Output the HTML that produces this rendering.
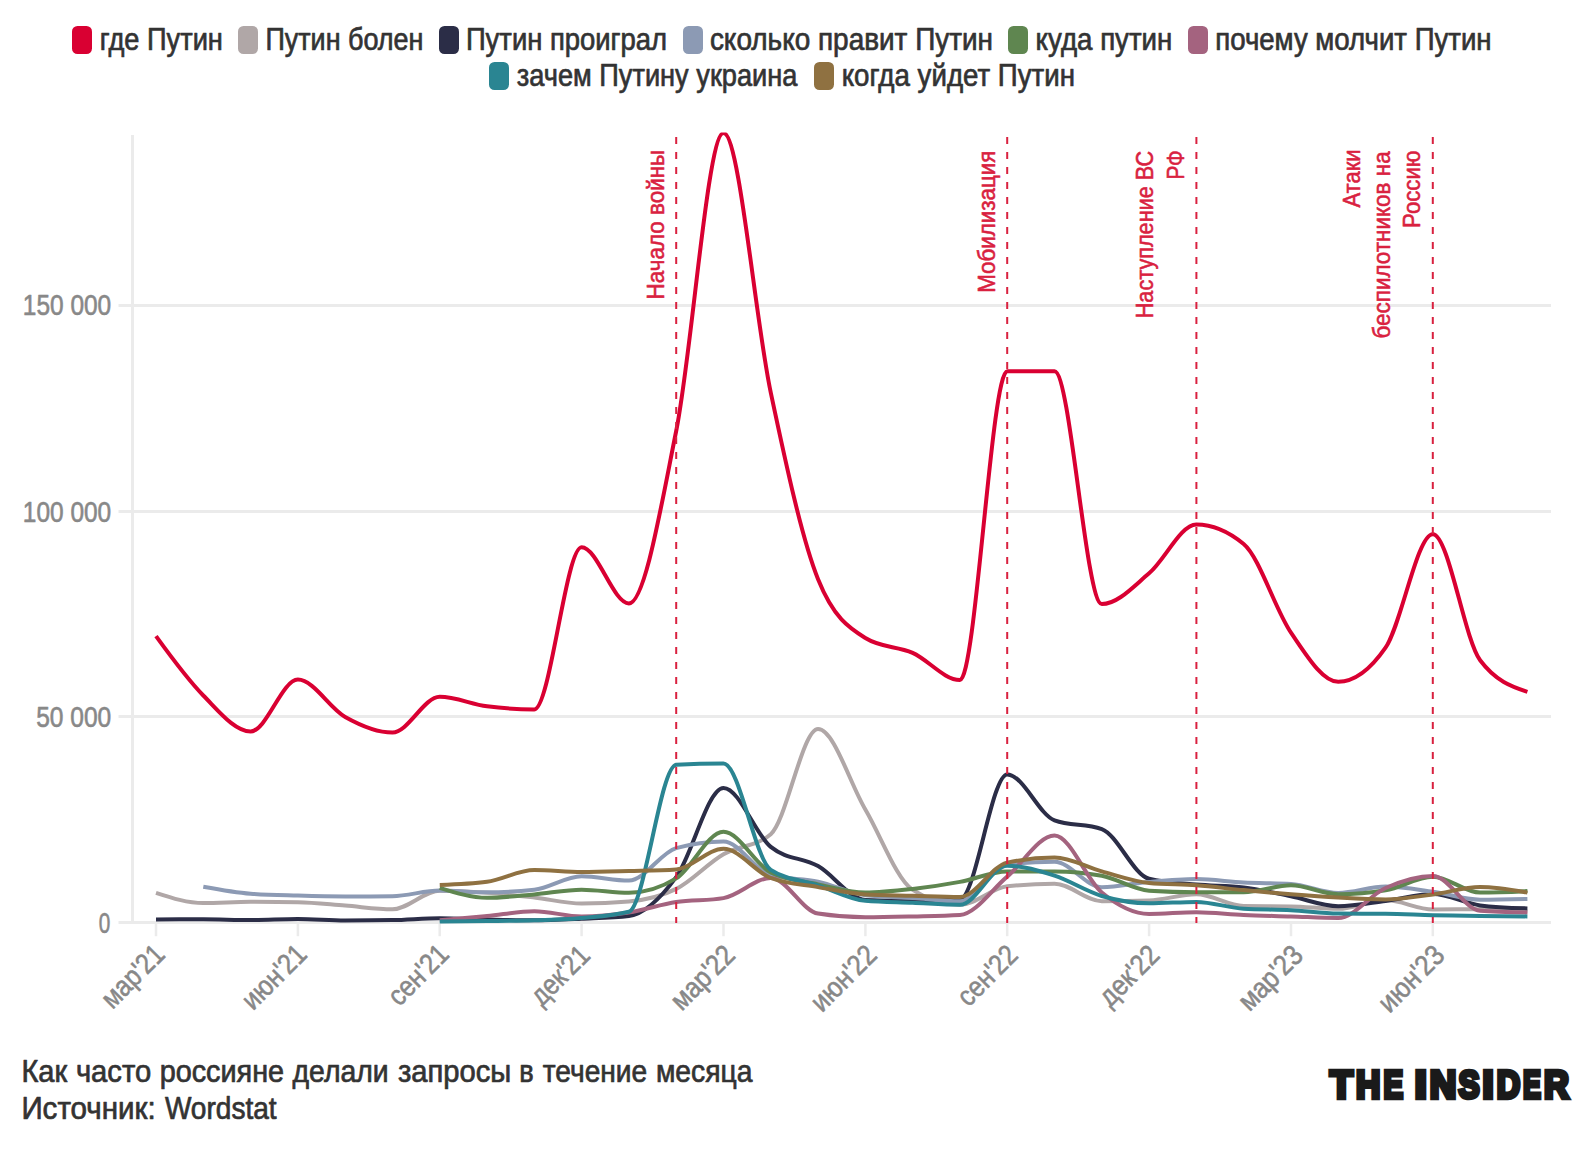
<!DOCTYPE html>
<html lang="ru"><head><meta charset="utf-8"><title>Как часто россияне делали запросы</title>
<style>
html,body{margin:0;padding:0;background:#fff;}
body{width:1592px;height:1150px;overflow:hidden;font-family:"Liberation Sans",sans-serif;}
svg{display:block;}
text{font-family:"Liberation Sans",sans-serif;stroke-linejoin:round;}
.lg{font-size:30.5px;fill:#333;stroke:#333;stroke-width:.7;}
.ax{font-size:28.6px;fill:#888;stroke:#888;stroke-width:.6;}
.an{font-size:24.4px;fill:#D9213F;stroke:#D9213F;stroke-width:.55;}
.ft{font-size:30.5px;fill:#333;stroke:#333;stroke-width:.7;}
.logo{font-size:39.4px;font-weight:bold;fill:#1a1a1a;stroke:#1a1a1a;stroke-width:4.5;stroke-linejoin:miter;stroke-miterlimit:2.5;}
.lines path{fill:none;stroke-width:4;stroke-linejoin:round;stroke-linecap:butt;}
</style></head><body>
<svg width="1592" height="1150" viewBox="0 0 1592 1150">
<rect width="1592" height="1150" fill="#fff"/>
<g>
<rect x="72.0" y="26" width="20" height="28" rx="5.5" ry="5.5" fill="#D90032"/>
<rect x="238.0" y="26" width="20" height="28" rx="5.5" ry="5.5" fill="#B0A7A7"/>
<rect x="439.0" y="26" width="20" height="28" rx="5.5" ry="5.5" fill="#2B2D47"/>
<rect x="683.0" y="26" width="20" height="28" rx="5.5" ry="5.5" fill="#8C9AB4"/>
<rect x="1008.0" y="26" width="20" height="28" rx="5.5" ry="5.5" fill="#5F8650"/>
<rect x="1188.0" y="26" width="20" height="28" rx="5.5" ry="5.5" fill="#A4637F"/>
<rect x="489.0" y="62" width="20" height="28" rx="5.5" ry="5.5" fill="#2A8592"/>
<rect x="814.0" y="62" width="20" height="28" rx="5.5" ry="5.5" fill="#8F7141"/>
</g>
<g stroke="#ebebeb" stroke-width="3" fill="none">
<line x1="118.5" x2="1551" y1="305.5" y2="305.5"/>
<line x1="118.5" x2="1551" y1="511.5" y2="511.5"/>
<line x1="118.5" x2="1551" y1="716.5" y2="716.5"/>
<line x1="118.5" x2="1551" y1="922.5" y2="922.5"/>
<line x1="132.5" x2="132.5" y1="135" y2="924"/>
<line x1="156.0" x2="156.0" y1="922.5" y2="936.2" stroke-width="2.5"/>
<line x1="297.9" x2="297.9" y1="922.5" y2="936.2" stroke-width="2.5"/>
<line x1="439.7" x2="439.7" y1="922.5" y2="936.2" stroke-width="2.5"/>
<line x1="581.6" x2="581.6" y1="922.5" y2="936.2" stroke-width="2.5"/>
<line x1="723.5" x2="723.5" y1="922.5" y2="936.2" stroke-width="2.5"/>
<line x1="865.4" x2="865.4" y1="922.5" y2="936.2" stroke-width="2.5"/>
<line x1="1007.2" x2="1007.2" y1="922.5" y2="936.2" stroke-width="2.5"/>
<line x1="1149.1" x2="1149.1" y1="922.5" y2="936.2" stroke-width="2.5"/>
<line x1="1291.0" x2="1291.0" y1="922.5" y2="936.2" stroke-width="2.5"/>
<line x1="1432.8" x2="1432.8" y1="922.5" y2="936.2" stroke-width="2.5"/>
</g>
<clipPath id="plot"><rect x="120" y="132.5" width="1440" height="810"/></clipPath>
<g class="lines" clip-path="url(#plot)">
<path d="M156.00,636.20C171.76,657.91,187.53,679.62,203.29,695.50C219.05,711.38,234.82,731.50,250.58,731.50C266.34,731.50,282.11,679.60,297.87,679.60C313.63,679.60,329.40,708.08,345.16,716.90C360.92,725.72,376.69,732.50,392.45,732.50C408.21,732.50,423.98,696.80,439.74,696.80C455.50,696.80,471.27,704.23,487.03,706.30C502.79,708.37,518.56,709.40,534.32,709.40C550.08,709.40,565.85,547.30,581.61,547.30C597.37,547.30,613.14,603.40,628.90,603.40C644.66,603.40,660.43,509.40,676.19,431.00C691.95,352.60,707.72,133.00,723.48,133.00C739.24,133.00,755.01,318.23,770.77,392.60C786.53,466.97,802.30,540.00,818.06,579.20C833.82,618.40,849.59,628.07,865.35,638.00C881.11,647.93,896.88,645.90,912.64,652.90C928.40,659.90,944.17,680.00,959.93,680.00C975.69,680.00,991.46,371.30,1007.22,371.30C1022.98,371.30,1038.75,371.30,1054.51,371.30C1070.27,371.30,1086.04,604.10,1101.80,604.10C1117.56,604.10,1133.33,586.57,1149.09,573.30C1164.85,560.03,1180.62,524.50,1196.38,524.50C1212.14,524.50,1227.91,531.00,1243.67,544.00C1259.43,557.00,1275.20,609.63,1290.96,632.60C1306.72,655.57,1322.49,681.80,1338.25,681.80C1354.01,681.80,1369.78,670.43,1385.54,647.70C1401.30,624.97,1417.07,534.20,1432.83,534.20C1448.59,534.20,1464.36,639.23,1480.12,660.30C1495.88,681.37,1511.65,686.63,1527.41,691.90" stroke="#D90032"/>
<path d="M156.00,892.80C171.76,897.95,187.53,903.10,203.29,903.10C219.05,903.10,234.82,901.80,250.58,901.80C266.34,901.80,282.11,901.93,297.87,902.20C313.63,902.47,329.40,904.42,345.16,905.60C360.92,906.78,376.69,909.30,392.45,909.30C408.21,909.30,423.98,890.80,439.74,890.80C455.50,890.80,471.27,891.68,487.03,892.80C502.79,893.92,518.56,895.72,534.32,897.50C550.08,899.28,565.85,903.50,581.61,903.50C597.37,903.50,613.14,902.83,628.90,901.50C644.66,900.17,660.43,896.78,676.19,888.90C691.95,881.02,707.72,863.32,723.48,854.20C739.24,845.08,755.01,847.53,770.77,834.20C786.53,820.87,802.30,729.10,818.06,729.10C833.82,729.10,849.59,782.70,865.35,809.50C881.11,836.30,896.88,879.97,912.64,889.90C928.40,899.83,944.17,904.80,959.93,904.80C975.69,904.80,991.46,888.03,1007.22,886.30C1022.98,884.57,1038.75,883.70,1054.51,883.70C1070.27,883.70,1086.04,901.20,1101.80,901.20C1117.56,901.20,1133.33,900.93,1149.09,900.40C1164.85,899.87,1180.62,894.30,1196.38,894.30C1212.14,894.30,1227.91,905.73,1243.67,906.00C1259.43,906.27,1275.20,906.13,1290.96,906.40C1306.72,906.67,1322.49,908.80,1338.25,908.80C1354.01,908.80,1369.78,900.10,1385.54,900.10C1401.30,900.10,1417.07,909.50,1432.83,909.50C1448.59,909.50,1464.36,909.20,1480.12,909.20C1495.88,909.20,1511.65,910.30,1527.41,911.40" stroke="#B0A7A7"/>
<path d="M156.00,919.50C171.76,919.40,187.53,919.30,203.29,919.30C219.05,919.30,234.82,920.10,250.58,920.10C266.34,920.10,282.11,919.10,297.87,919.10C313.63,919.10,329.40,920.50,345.16,920.50C360.92,920.50,376.69,920.37,392.45,920.10C408.21,919.83,423.98,918.20,439.74,918.20C455.50,918.20,471.27,919.15,487.03,919.50C502.79,919.85,518.56,920.30,534.32,920.30C550.08,920.30,565.85,919.42,581.61,918.70C597.37,917.98,613.14,917.80,628.90,916.00C644.66,914.20,660.43,898.45,676.19,877.10C691.95,855.75,707.72,787.90,723.48,787.90C739.24,787.90,755.01,834.10,770.77,846.90C786.53,859.70,802.30,857.27,818.06,866.10C833.82,874.93,849.59,899.30,865.35,899.90C881.11,900.50,896.88,900.80,912.64,900.80C928.40,900.80,944.17,900.37,959.93,899.50C975.69,898.63,991.46,774.40,1007.22,774.40C1022.98,774.40,1038.75,814.43,1054.51,820.30C1070.27,826.17,1086.04,823.23,1101.80,829.10C1117.56,834.97,1133.33,874.93,1149.09,878.80C1164.85,882.67,1180.62,883.17,1196.38,884.60C1212.14,886.03,1227.91,885.53,1243.67,887.40C1259.43,889.27,1275.20,893.17,1290.96,896.30C1306.72,899.43,1322.49,906.20,1338.25,906.20C1354.01,906.20,1369.78,902.92,1385.54,900.90C1401.30,898.88,1417.07,894.10,1432.83,894.10C1448.59,894.10,1464.36,903.40,1480.12,905.40C1495.88,907.40,1511.65,907.90,1527.41,908.40" stroke="#2B2D47"/>
<path d="M203.29,886.70C219.05,889.57,234.82,892.43,250.58,893.70C266.34,894.97,282.11,895.13,297.87,895.60C313.63,896.07,329.40,896.50,345.16,896.50C360.92,896.50,376.69,896.40,392.45,896.20C408.21,896.00,423.98,890.50,439.74,890.50C455.50,890.50,471.27,892.30,487.03,892.30C502.79,892.30,518.56,891.43,534.32,889.70C550.08,887.97,565.85,876.30,581.61,876.30C597.37,876.30,613.14,880.60,628.90,880.60C644.66,880.60,660.43,852.50,676.19,848.10C691.95,843.70,707.72,841.50,723.48,841.50C739.24,841.50,755.01,871.10,770.77,875.30C786.53,879.50,802.30,878.27,818.06,881.60C833.82,884.93,849.59,893.43,865.35,895.30C881.11,897.17,896.88,897.12,912.64,898.10C928.40,899.08,944.17,901.20,959.93,901.20C975.69,901.20,991.46,866.03,1007.22,864.30C1022.98,862.57,1038.75,861.70,1054.51,861.70C1070.27,861.70,1086.04,887.20,1101.80,887.20C1117.56,887.20,1133.33,883.25,1149.09,881.90C1164.85,880.55,1180.62,879.10,1196.38,879.10C1212.14,879.10,1227.91,881.70,1243.67,882.50C1259.43,883.30,1275.20,882.97,1290.96,883.90C1306.72,884.83,1322.49,892.90,1338.25,892.90C1354.01,892.90,1369.78,886.50,1385.54,886.50C1401.30,886.50,1417.07,889.60,1432.83,891.80C1448.59,894.00,1464.36,899.70,1480.12,899.70C1495.88,899.70,1511.65,899.35,1527.41,899.00" stroke="#8C9AB4"/>
<path d="M439.74,887.80C455.50,892.80,471.27,897.80,487.03,897.80C502.79,897.80,518.56,895.75,534.32,894.40C550.08,893.05,565.85,889.70,581.61,889.70C597.37,889.70,613.14,892.80,628.90,892.80C644.66,892.80,660.43,888.00,676.19,878.40C691.95,868.80,707.72,831.80,723.48,831.80C739.24,831.80,755.01,864.57,770.77,872.50C786.53,880.43,802.30,881.05,818.06,884.40C833.82,887.75,849.59,892.60,865.35,892.60C881.11,892.60,896.88,890.78,912.64,889.00C928.40,887.22,944.17,884.83,959.93,881.90C975.69,878.97,991.46,871.40,1007.22,871.40C1022.98,871.40,1038.75,871.40,1054.51,871.40C1070.27,871.40,1086.04,872.83,1101.80,875.70C1117.56,878.57,1133.33,889.70,1149.09,890.70C1164.85,891.70,1180.62,892.20,1196.38,892.20C1212.14,892.20,1227.91,892.20,1243.67,892.20C1259.43,892.20,1275.20,885.30,1290.96,885.30C1306.72,885.30,1322.49,894.20,1338.25,894.20C1354.01,894.20,1369.78,892.90,1385.54,890.30C1401.30,887.70,1417.07,876.70,1432.83,876.70C1448.59,876.70,1464.36,892.60,1480.12,892.60C1495.88,892.60,1511.65,891.85,1527.41,891.10" stroke="#5F8650"/>
<path d="M439.74,920.30C455.50,918.90,471.27,917.50,487.03,916.00C502.79,914.50,518.56,911.30,534.32,911.30C550.08,911.30,565.85,916.40,581.61,916.40C597.37,916.40,613.14,914.80,628.90,912.40C644.66,910.00,660.43,904.38,676.19,902.00C691.95,899.62,707.72,900.70,723.48,898.10C739.24,895.50,755.01,878.00,770.77,878.00C786.53,878.00,802.30,911.13,818.06,913.60C833.82,916.07,849.59,917.30,865.35,917.30C881.11,917.30,896.88,916.88,912.64,916.50C928.40,916.12,944.17,916.00,959.93,915.00C975.69,914.00,991.46,889.83,1007.22,876.60C1022.98,863.37,1038.75,835.60,1054.51,835.60C1070.27,835.60,1086.04,879.43,1101.80,892.50C1117.56,905.57,1133.33,914.00,1149.09,914.00C1164.85,914.00,1180.62,912.20,1196.38,912.20C1212.14,912.20,1227.91,914.30,1243.67,915.00C1259.43,915.70,1275.20,915.90,1290.96,916.40C1306.72,916.90,1322.49,918.00,1338.25,918.00C1354.01,918.00,1369.78,895.00,1385.54,888.00C1401.30,881.00,1417.07,876.00,1432.83,876.00C1448.59,876.00,1464.36,909.43,1480.12,910.70C1495.88,911.97,1511.65,912.28,1527.41,912.60" stroke="#A4637F"/>
<path d="M439.74,921.50C455.50,921.40,471.27,921.30,487.03,921.10C502.79,920.90,518.56,920.83,534.32,920.30C550.08,919.77,565.85,919.33,581.61,917.90C597.37,916.47,613.14,915.83,628.90,911.70C644.66,907.57,660.43,765.50,676.19,764.70C691.95,763.90,707.72,763.50,723.48,763.50C739.24,763.50,755.01,859.47,770.77,869.80C786.53,880.13,802.30,880.13,818.06,885.30C833.82,890.47,849.59,899.47,865.35,900.80C881.11,902.13,896.88,902.13,912.64,902.80C928.40,903.47,944.17,904.80,959.93,904.80C975.69,904.80,991.46,865.70,1007.22,865.70C1022.98,865.70,1038.75,870.65,1054.51,875.70C1070.27,880.75,1086.04,891.40,1101.80,896.00C1117.56,900.60,1133.33,903.30,1149.09,903.30C1164.85,903.30,1180.62,901.90,1196.38,901.90C1212.14,901.90,1227.91,907.87,1243.67,908.80C1259.43,909.73,1275.20,909.40,1290.96,910.20C1306.72,911.00,1322.49,913.53,1338.25,913.60C1354.01,913.67,1369.78,913.63,1385.54,913.70C1401.30,913.77,1417.07,914.83,1432.83,915.20C1448.59,915.57,1464.36,915.70,1480.12,915.90C1495.88,916.10,1511.65,916.25,1527.41,916.40" stroke="#2A8592"/>
<path d="M439.74,885.00C455.50,884.47,471.27,883.93,487.03,881.80C502.79,879.67,518.56,870.00,534.32,870.00C550.08,870.00,565.85,872.10,581.61,872.10C597.37,872.10,613.14,871.53,628.90,871.10C644.66,870.67,660.43,870.57,676.19,869.50C691.95,868.43,707.72,848.80,723.48,848.80C739.24,848.80,755.01,871.93,770.77,878.00C786.53,884.07,802.30,884.37,818.06,887.10C833.82,889.83,849.59,893.53,865.35,894.40C881.11,895.27,896.88,895.28,912.64,895.70C928.40,896.12,944.17,896.90,959.93,896.90C975.69,896.90,991.46,865.93,1007.22,862.60C1022.98,859.27,1038.75,857.60,1054.51,857.60C1070.27,857.60,1086.04,867.17,1101.80,871.40C1117.56,875.63,1133.33,881.47,1149.09,883.00C1164.85,884.53,1180.62,884.12,1196.38,885.30C1212.14,886.48,1227.91,888.60,1243.67,890.10C1259.43,891.60,1275.20,893.05,1290.96,894.30C1306.72,895.55,1322.49,896.75,1338.25,897.60C1354.01,898.45,1369.78,899.40,1385.54,899.40C1401.30,899.40,1417.07,896.57,1432.83,894.50C1448.59,892.43,1464.36,887.00,1480.12,887.00C1495.88,887.00,1511.65,889.80,1527.41,892.60" stroke="#8F7141"/>
</g>
<g stroke="#D9213F" stroke-width="2" stroke-dasharray="7 8" fill="none">
<line x1="676.2" x2="676.2" y1="137" y2="923"/>
<line x1="1007.2" x2="1007.2" y1="137" y2="923"/>
<line x1="1196.4" x2="1196.4" y1="137" y2="923"/>
<line x1="1432.8" x2="1432.8" y1="137" y2="923"/>
</g>
<g>
<text class="lg" transform="translate(99.70,49.50)" textLength="123.21" lengthAdjust="spacingAndGlyphs">где Путин</text>
<text class="lg" transform="translate(265.40,49.50)" textLength="158.03" lengthAdjust="spacingAndGlyphs">Путин болен</text>
<text class="lg" transform="translate(465.90,49.50)" textLength="201.22" lengthAdjust="spacingAndGlyphs">Путин проиграл</text>
<text class="lg" transform="translate(709.90,49.50)" textLength="283.10" lengthAdjust="spacingAndGlyphs">сколько правит Путин</text>
<text class="lg" transform="translate(1035.60,49.50)" textLength="136.74" lengthAdjust="spacingAndGlyphs">куда путин</text>
<text class="lg" transform="translate(1215.20,49.50)" textLength="276.41" lengthAdjust="spacingAndGlyphs">почему молчит Путин</text>
<text class="lg" transform="translate(516.70,85.50)" textLength="280.71" lengthAdjust="spacingAndGlyphs">зачем Путину украина</text>
<text class="lg" transform="translate(841.70,85.50)" textLength="233.30" lengthAdjust="spacingAndGlyphs">когда уйдет Путин</text>
<text class="ax" transform="translate(22.80,315.40)" textLength="88.40" lengthAdjust="spacingAndGlyphs">150 000</text>
<text class="ax" transform="translate(22.80,521.50)" textLength="88.40" lengthAdjust="spacingAndGlyphs">100 000</text>
<text class="ax" transform="translate(36.20,727.40)" textLength="75.06" lengthAdjust="spacingAndGlyphs">50 000</text>
<text class="ax" transform="translate(98.70,932.60)" textLength="11.52" lengthAdjust="spacingAndGlyphs">0</text>
<text class="ax" transform="translate(112.39,1009.91) rotate(-45)" textLength="76.24" lengthAdjust="spacingAndGlyphs">мар'21</text>
<text class="ax" transform="translate(253.09,1011.31) rotate(-45)" textLength="78.22" lengthAdjust="spacingAndGlyphs">июн'21</text>
<text class="ax" transform="translate(399.19,1007.31) rotate(-45)" textLength="72.57" lengthAdjust="spacingAndGlyphs">сен'21</text>
<text class="ax" transform="translate(541.69,1006.91) rotate(-45)" textLength="70.59" lengthAdjust="spacingAndGlyphs">дек'21</text>
<text class="ax" transform="translate(681.79,1011.71) rotate(-45)" textLength="77.66" lengthAdjust="spacingAndGlyphs">мар'22</text>
<text class="ax" transform="translate(821.89,1013.31) rotate(-45)" textLength="79.92" lengthAdjust="spacingAndGlyphs">июн'22</text>
<text class="ax" transform="translate(968.59,1007.71) rotate(-45)" textLength="72.00" lengthAdjust="spacingAndGlyphs">сен'22</text>
<text class="ax" transform="translate(1110.09,1007.91) rotate(-45)" textLength="72.28" lengthAdjust="spacingAndGlyphs">дек'22</text>
<text class="ax" transform="translate(1249.39,1012.31) rotate(-45)" textLength="78.22" lengthAdjust="spacingAndGlyphs">мар'23</text>
<text class="ax" transform="translate(1389.39,1013.91) rotate(-45)" textLength="80.49" lengthAdjust="spacingAndGlyphs">июн'23</text>
<text class="an" transform="translate(663.90,299.40) rotate(-90)" textLength="149.62" lengthAdjust="spacingAndGlyphs">Начало войны</text>
<text class="an" transform="translate(994.70,292.80) rotate(-90)" textLength="142.22" lengthAdjust="spacingAndGlyphs">Мобилизация</text>
<text class="an" transform="translate(1153.30,318.30) rotate(-90)" textLength="167.51" lengthAdjust="spacingAndGlyphs">Наступление ВС</text>
<text class="an" transform="translate(1183.60,179.60) rotate(-90)" textLength="29.24" lengthAdjust="spacingAndGlyphs">РФ</text>
<text class="an" transform="translate(1360.10,207.60) rotate(-90)" textLength="58.24" lengthAdjust="spacingAndGlyphs">Атаки</text>
<text class="an" transform="translate(1390.20,338.60) rotate(-90)" textLength="187.23" lengthAdjust="spacingAndGlyphs">беспилотников на</text>
<text class="an" transform="translate(1419.80,227.90) rotate(-90)" textLength="77.32" lengthAdjust="spacingAndGlyphs">Россию</text>
<text class="ft"><tspan x="21.40" y="1081.50" textLength="45.80" lengthAdjust="spacingAndGlyphs">Как</tspan> <tspan x="75.90" y="1081.50" textLength="75.35" lengthAdjust="spacingAndGlyphs">часто</tspan> <tspan x="159.70" y="1081.50" textLength="124.41" lengthAdjust="spacingAndGlyphs">россияне</tspan> <tspan x="292.50" y="1081.50" textLength="96.09" lengthAdjust="spacingAndGlyphs">делали</tspan> <tspan x="397.90" y="1081.50" textLength="113.39" lengthAdjust="spacingAndGlyphs">запросы</tspan> <tspan x="519.30" y="1081.50" textLength="14.45" lengthAdjust="spacingAndGlyphs">в</tspan> <tspan x="542.70" y="1081.50" textLength="104.51" lengthAdjust="spacingAndGlyphs">течение</tspan> <tspan x="655.90" y="1081.50" textLength="96.51" lengthAdjust="spacingAndGlyphs">месяца</tspan></text>
<text class="ft"><tspan x="21.40" y="1119.10" textLength="134.33" lengthAdjust="spacingAndGlyphs">Источник:</tspan> <tspan x="164.90" y="1119.10" textLength="111.75" lengthAdjust="spacingAndGlyphs">Wordstat</tspan></text>
<text class="logo"><tspan x="1329.90" y="1098.00" textLength="22.79" lengthAdjust="spacingAndGlyphs">T</tspan><tspan x="1356.10" y="1098.00" textLength="24.34" lengthAdjust="spacingAndGlyphs">H</tspan><tspan x="1383.50" y="1098.00" textLength="19.60" lengthAdjust="spacingAndGlyphs">E</tspan> <tspan x="1414.80" y="1098.00" textLength="11.99" lengthAdjust="spacingAndGlyphs">I</tspan><tspan x="1429.70" y="1098.00" textLength="26.56" lengthAdjust="spacingAndGlyphs">N</tspan><tspan x="1458.60" y="1098.00" textLength="21.12" lengthAdjust="spacingAndGlyphs">S</tspan><tspan x="1482.50" y="1098.00" textLength="11.09" lengthAdjust="spacingAndGlyphs">I</tspan><tspan x="1496.70" y="1098.00" textLength="23.44" lengthAdjust="spacingAndGlyphs">D</tspan><tspan x="1523.10" y="1098.00" textLength="17.94" lengthAdjust="spacingAndGlyphs">E</tspan><tspan x="1544.00" y="1098.00" textLength="24.91" lengthAdjust="spacingAndGlyphs">R</tspan></text>
</g>
</svg></body></html>
